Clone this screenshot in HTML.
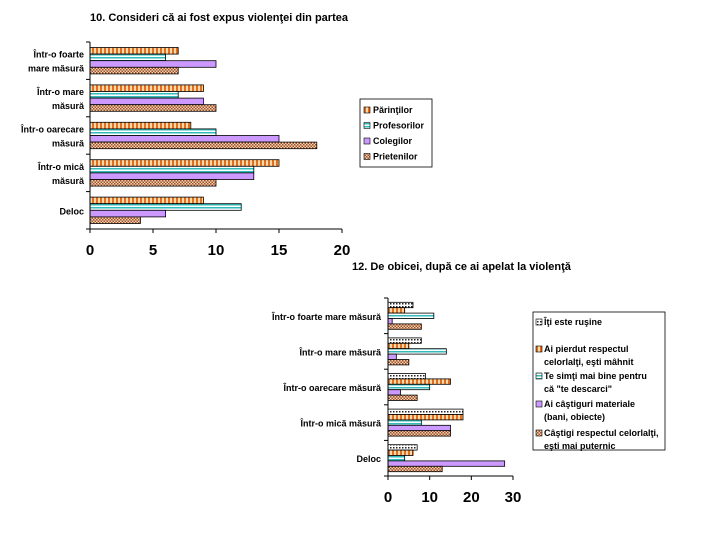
<!DOCTYPE html>
<html><head><meta charset="utf-8"><style>
body{margin:0;background:#fff;}
svg{display:block;font-family:"Liberation Sans",sans-serif;}
</style></head><body>
<svg width="720" height="540" viewBox="0 0 720 540">
<defs>
<pattern id="pOrange" width="4" height="4" patternUnits="userSpaceOnUse"><rect width="4" height="4" fill="#f8d8a8"/><rect width="2" height="4" fill="#e07020"/></pattern>
<pattern id="pCyan" width="4" height="3" patternUnits="userSpaceOnUse"><rect width="4" height="3" fill="#fff"/><rect width="4" height="1.5" fill="#33bbbb"/></pattern>
<pattern id="pBrown" width="3" height="3" patternUnits="userSpaceOnUse"><rect width="3" height="3" fill="#f2d2b0"/><rect width="1.5" height="1.5" fill="#a0522d"/><rect x="1.5" y="1.5" width="1.5" height="1.5" fill="#a0522d"/></pattern>
<pattern id="pDots" width="3" height="3" patternUnits="userSpaceOnUse"><rect width="3" height="3" fill="#fff"/><rect width="1.5" height="1.5" fill="#222"/></pattern>
</defs>
<text x="90" y="21" font-size="11" font-weight="bold">10. Consideri că ai fost expus violenţei din partea</text>
<g id="c1"></g>
<text x="352" y="270" font-size="11" font-weight="bold">12. De obicei, după ce ai apelat la violenţă</text>
<g id="c2"></g>
</svg>
<script>
const NS="http://www.w3.org/2000/svg";
// Chart 1 data
const c1Categories=[["Într-o foarte","mare măsură"],["Într-o mare","măsură"],["Într-o oarecare","măsură"],["Într-o mică","măsură"],["Deloc"]];
const c1Series=["Părinţilor","Profesorilor","Colegilor","Prietenilor"];
const c1Parinti=[7,9,8,15,9];
const c1Profesori=[6,7,10,13,12];
const c1Colegi=[10,9,15,13,6];
const c1Prieteni=[7,10,18,10,4];
const c1Ticks=[0,5,10,15,20];
// Chart 2 data
const c2Categories=["Într-o foarte mare măsură","Într-o mare măsură","Într-o oarecare măsură","Într-o mică măsură","Deloc"];
const c2Series=[["Îţi este ruşine"],["Ai pierdut respectul","celorlalţi, eşti mâhnit"],["Te simţi mai bine pentru","că \"te descarci\""],["Ai câştiguri materiale","(bani, obiecte)"],["Câştigi respectul celorlalţi,","eşti mai puternic"]];
const c2Rusine=[6,8,9,18,7];
const c2Pierdut=[4,5,15,18,6];
const c2Simti=[11,14,10,8,4];
const c2Castiguri=[1,2,3,15,28];
const c2Castigi=[8,5,7,15,13];
const c2Ticks=[0,10,20,30];

function el(t,a,p){const e=document.createElementNS(NS,t);for(const k in a)e.setAttribute(k,a[k]);p.appendChild(e);return e;}

function drawChart(g,cfg){
  const {x0,x1,y0,y1,max,cats,series,fills,ticks,labelX,labelAnchor,catFont,tickY,prefix}=cfg;
  const sx=v=>x0+(x1-x0)*v/max;
  const band=(y1-y0)/cats.length;
  const bh=cfg.bh;
  cats.forEach((c,i)=>{
    const gy=y0+band*i+(band-bh*series.length)/2;
    series.forEach((s,j)=>{
      const r=el('rect',{x:x0,y:gy+j*bh,width:sx(s[i])-x0,height:bh,fill:fills[j],stroke:'#000','stroke-width':0.8},g);
      
      
    });
    const lines=Array.isArray(c)?c:[c];
    const cy=y0+band*i+band/2-(lines.length-1)*7+4;
    lines.forEach((l,k)=>{
      const t=el('text',{x:labelX,y:cy+k*14,'font-size':catFont,'font-weight':'bold','text-anchor':labelAnchor},g);
      t.textContent=l;
      
      
    });
    el('line',{x1:x0-4,x2:x0,y1:y0+band*i,y2:y0+band*i,stroke:'#000'},g);
  });
  el('line',{x1:x0-4,x2:x0,y1:y1,y2:y1,stroke:'#000'},g);
  el('line',{x1:x0,x2:x0,y1:y0,y2:y1+4,stroke:'#000'},g);
  el('line',{x1:x0,x2:x1,y1:y1,y2:y1,stroke:'#000'},g);
  ticks.forEach(v=>{
    el('line',{x1:sx(v),x2:sx(v),y1:y1,y2:y1+4,stroke:'#000'},g);
    const t=el('text',{x:sx(v),y:tickY,'font-size':15,'font-weight':'bold','text-anchor':'middle'},g);
    t.textContent=v;
    
    
  });
}
const g1=document.getElementById('c1');
drawChart(g1,{x0:90,x1:342,y0:42,y1:229,max:20,cats:c1Categories,series:[c1Parinti,c1Profesori,c1Colegi,c1Prieteni],
 fills:['url(#pOrange)','url(#pCyan)','#cc99ff','url(#pBrown)'],ticks:c1Ticks,labelX:84,labelAnchor:'end',catFont:9,tickY:255,bh:6.6,prefix:'chart1'});
const g2=document.getElementById('c2');
drawChart(g2,{x0:388,x1:513,y0:298,y1:476,max:30,cats:c2Categories,series:[c2Rusine,c2Pierdut,c2Simti,c2Castiguri,c2Castigi],
 fills:['url(#pDots)','url(#pOrange)','url(#pCyan)','#cc99ff','url(#pBrown)'],ticks:c2Ticks,labelX:381,labelAnchor:'end',catFont:9,tickY:502,bh:5.4,prefix:'chart2'});

// legend 1
const lg1=el('g',{},g1);


el('rect',{x:360,y:99,width:72,height:68,fill:'#fff',stroke:'#000','stroke-width':0.8},lg1);
const f1=['url(#pOrange)','url(#pCyan)','#cc99ff','url(#pBrown)'];
c1Series.forEach((s,j)=>{
  const y=113+j*15.5;
  el('rect',{x:364,y:y-6,width:6,height:6,fill:f1[j],stroke:'#000','stroke-width':0.6},lg1);
  const t=el('text',{x:373,y:y,'font-size':9,'font-weight':'bold'},lg1);
  t.textContent=s;
  
  
});
// legend 2
const lg2=el('g',{},g2);


el('rect',{x:533,y:312,width:132,height:138,fill:'#fff',stroke:'#000','stroke-width':0.8},lg2);
const f2=['url(#pDots)','url(#pOrange)','url(#pCyan)','#cc99ff','url(#pBrown)'];
const ly=[325,352,379,407,436];
c2Series.forEach((s,j)=>{
  el('rect',{x:536,y:ly[j]-6,width:6,height:6,fill:f2[j],stroke:'#000','stroke-width':0.6},lg2);
  s.forEach((l,k)=>{
    const t=el('text',{x:544,y:ly[j]+k*13,'font-size':9,'font-weight':'bold'},lg2);
    t.textContent=l;
    
    
  });
});
</script>
</body></html>
